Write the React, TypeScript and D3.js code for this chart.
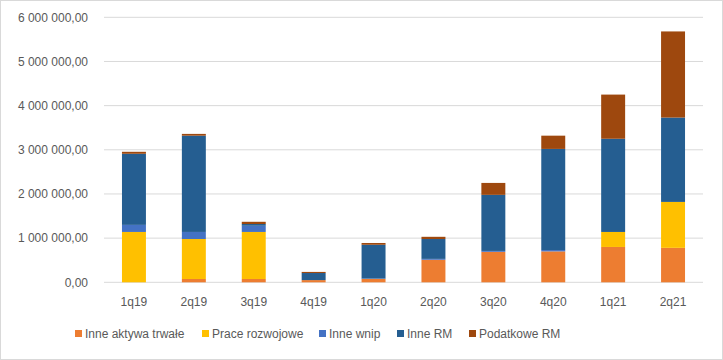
import React from "react";
import * as d3 from "d3";

const categories = ["1q19", "2q19", "3q19", "4q19", "1q20", "2q20", "3q20", "4q20", "1q21", "2q21"];
const seriesNames = ["Inne aktywa trwałe", "Prace rozwojowe", "Inne wnip", "Inne RM", "Podatkowe RM"];
const inneAktywaTrwale = [0, 75000, 75000, 50000, 75000, 510000, 690000, 700000, 800000, 780000];
const praceRozwojowe = [1140000, 905000, 1065000, 0, 0, 0, 0, 0, 340000, 1040000];
const inneWnip = [160000, 160000, 140000, 0, 10000, 20000, 20000, 30000, 0, 0];
const inneRM = [1610000, 2180000, 40000, 160000, 765000, 450000, 1270000, 2290000, 2110000, 1910000];
const podatkoweRM = [45000, 40000, 50000, 25000, 40000, 50000, 270000, 300000, 1000000, 1950000];
const yTicks = [0, 1000000, 2000000, 3000000, 4000000, 5000000, 6000000];
const colors = ["#ED7D31", "#FFC000", "#4472C4", "#255E91", "#9E480E"];

const W = 723, H = 360;
const left = 104, right = 703, top = 17.3, bottom = 282.3;

function fmt(v: number) {
  const s = Math.round(v).toString().replace(/\B(?=(\d{3})+(?!\d))/g, " ");
  return s + ",00";
}

export default function App() {
  const series = [inneAktywaTrwale, praceRozwojowe, inneWnip, inneRM, podatkoweRM];
  const rows = categories.map((c, i) => {
    const r: any = { cat: c };
    seriesNames.forEach((n, k) => (r[n] = series[k][i]));
    return r;
  });
  const stack = d3.stack<any>().keys(seriesNames)(rows);
  const x = d3.scaleBand().domain(categories).range([left, right]).paddingInner(0.6).paddingOuter(0.3);
  const y = d3.scaleLinear().domain([0, 6000000]).range([bottom, top]);
  const font = "'Liberation Sans', Arial, sans-serif";
  const textColor = "#595959";

  const legendX = [75, 202, 319, 397, 469];

  return (
    <svg width={W} height={H} style={{ position: "absolute", left: 0, top: 0 }} fontFamily={font}>
      <rect x={0.5} y={0.5} width={W - 1} height={H - 1} fill="#fff" stroke="#D9D9D9" />
      {yTicks.map((t) => (
        <g key={t}>
          <line x1={left} x2={right} y1={y(t)} y2={y(t)} stroke="#D9D9D9" strokeWidth={1} />
          <text x={88} y={y(t)} dy="0.35em" textAnchor="end" fontSize={12} fill={textColor}>
            {fmt(t)}
          </text>
        </g>
      ))}
      {stack.map((s, k) => (
        <g key={s.key} fill={colors[k]}>
          {s.map((d, i) => {
            const h = y(d[0]) - y(d[1]);
            if (h <= 0) return null;
            return <rect key={i} x={x(categories[i])} width={x.bandwidth()} y={y(d[1])} height={h} />;
          })}
        </g>
      ))}
      {categories.map((c) => (
        <text key={c} x={(x(c) as number) + x.bandwidth() / 2} y={302} dy="0.35em" textAnchor="middle" fontSize={12} fill={textColor}>
          {c}
        </text>
      ))}
      {seriesNames.map((n, k) => (
        <g key={n}>
          <rect x={legendX[k]} y={330} width={7} height={7} fill={colors[k]} />
          <text x={legendX[k] + 10} y={334} dy="0.35em" fontSize={12} fill={textColor}>
            {n}
          </text>
        </g>
      ))}
    </svg>
  );
}
